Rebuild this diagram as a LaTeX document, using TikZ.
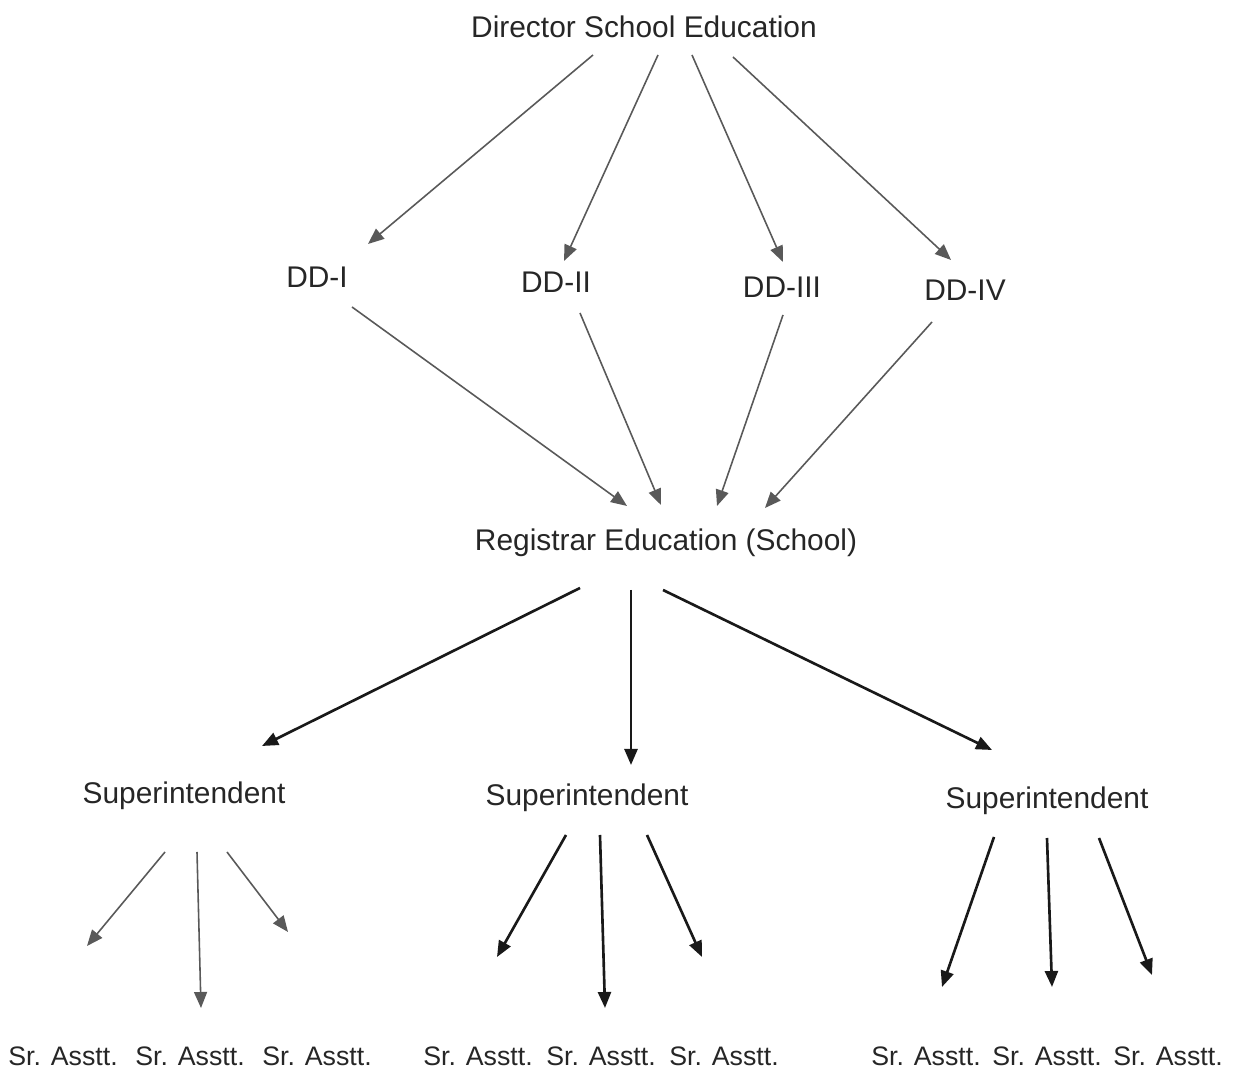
\documentclass[tikz,border=0pt]{standalone}
\usepackage{fontspec}
\setmainfont{Liberation Sans}
\usepackage{tikz}
\usetikzlibrary{arrows.meta,calc}

\begin{document}
\begin{tikzpicture}
	[x=0.01cm, y=-0.01cm,
	 lbl/.style={inner sep=0pt, text=black!85, font=\fontsize{8.5}{10}\selectfont},
	 asst/.style={inner sep=0pt, text=black!85, font=\fontsize{7.6}{9}\selectfont},
	 arr/.style={-{Triangle[length=0.16cm,width=0.13cm]}, line width=0.45pt, black!65},
	 arrb/.style={arr, line width=0.75pt, black!90}]

	\useasboundingbox (0,0) rectangle (1233,1074);

	% top
	\node[lbl] (dir) at (644,27) {Director School Education};

	% deputy directors
	\node[lbl] (dd1) at (317,277) {DD-I};
	\node[lbl] (dd2) at (556,282) {DD-II};
	\node[lbl] (dd3) at (782,287) {DD-III};
	\node[lbl] (dd4) at (965,290) {DD-IV};

	\node[lbl] (reg) at (666,543) {Registrar Education (School)};

	% superintendents
	\node[lbl] (sup1) at (184,796) {Superintendent};
	\node[lbl] (sup2) at (587,798) {Superintendent};
	\node[lbl] (sup3) at (1047,801) {Superintendent};

	% assistants
	\node[asst] (a11) at (63,1056)  {Sr. Asstt.};
	\node[asst] (a12) at (190,1056) {Sr. Asstt.};
	\node[asst] (a13) at (317,1056) {Sr. Asstt.};
	\node[asst] (a21) at (478,1056) {Sr. Asstt.};
	\node[asst] (a22) at (601,1056) {Sr. Asstt.};
	\node[asst] (a23) at (724,1056) {Sr. Asstt.};
	\node[asst] (a31) at (926,1056) {Sr. Asstt.};
	\node[asst] (a32) at (1047,1056) {Sr. Asstt.};
	\node[asst] (a33) at (1168,1056) {Sr. Asstt.};

	% arrow tips
	\coordinate (t1) at (368,244);
	\coordinate (t2) at (564,261);
	\coordinate (t3) at (783,262);
	\coordinate (t4) at (951,260);
	\coordinate (r1) at (627,506);
	\coordinate (r2) at (661,505);
	\coordinate (r3) at (717,506);
	\coordinate (r4) at (765,508);
	\coordinate (s1) at (262,746);
	\coordinate (s2) at (631,765);
	\coordinate (s3) at (992,750);

	% director -> DD
	\draw[arr] ($(dir)+(-51,28)$) -- (t1);
	\draw[arr] ($(dir)+(14,28)$) -- (t2);
	\draw[arr] ($(dir)+(48,28)$) -- (t3);
	\draw[arr] ($(dir)+(89,30)$) -- (t4);

	% DD -> registrar
	\draw[arr] ($(dd1)+(35,30)$) -- (r1);
	\draw[arr] ($(dd2)+(24,31)$) -- (r2);
	\draw[arr] ($(dd3)+(1,28)$) -- (r3);
	\draw[arr] ($(dd4)+(-33,32)$) -- (r4);

	% registrar -> superintendents
	\draw[arrb] ($(reg)+(-86,45)$) -- (s1);
	\draw[arrb] ($(reg)+(-35,47)$) -- (s2);
	\draw[arrb] ($(reg)+(-3,47)$) -- (s3);

	% superintendents -> assistants
	\draw[arr] ($(sup1)+(-19,56)$) -- ($(a11)+(24,-110)$);
	\draw[arr] ($(sup1)+(13,56)$) -- ($(a12)+(11,-48)$);
	\draw[arr] ($(sup1)+(43,56)$) -- ($(a13)+(-29,-124)$);

	\draw[arrb] ($(sup2)+(-21,37)$) -- ($(a21)+(19,-99)$);
	\draw[arrb] ($(sup2)+(13,37)$) -- ($(a22)+(4,-48)$);
	\draw[arrb] ($(sup2)+(60,37)$) -- ($(a23)+(-22,-99)$);

	\draw[arrb] ($(sup3)+(-53,36)$) -- ($(a31)+(16,-69)$);
	\draw[arrb] ($(sup3)+(0,37)$) -- ($(a32)+(5,-69)$);
	\draw[arrb] ($(sup3)+(52,37)$) -- ($(a33)+(-16,-81)$);

\end{tikzpicture}
\end{document}
